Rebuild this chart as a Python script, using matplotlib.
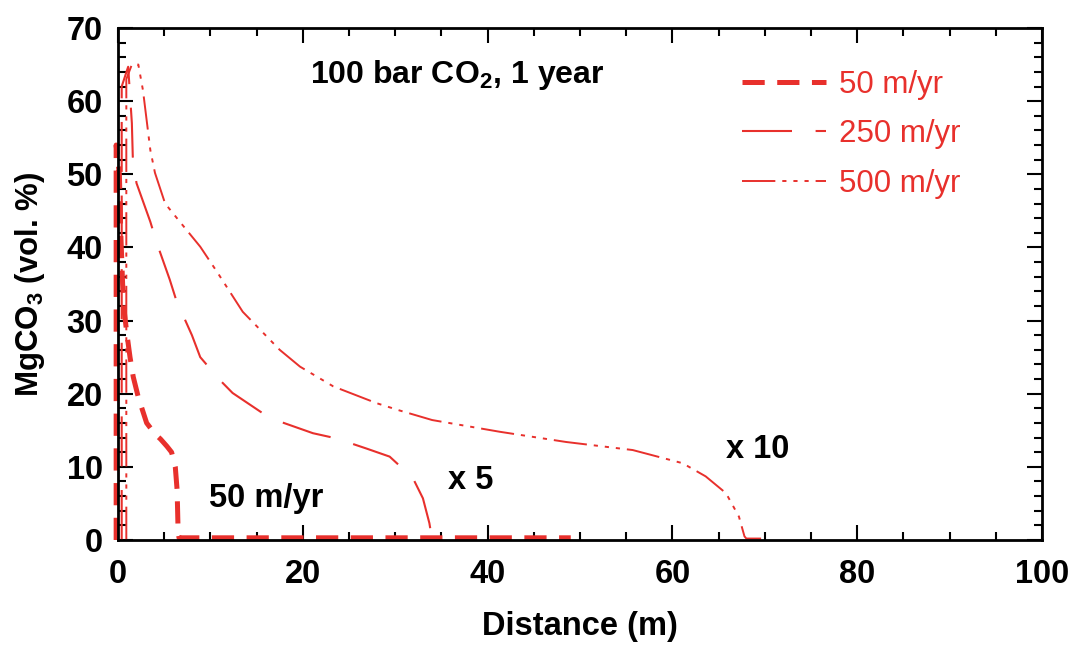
import matplotlib
matplotlib.use("Agg")
import matplotlib.pyplot as plt
from matplotlib.ticker import MultipleLocator

plt.rcParams['font.family'] = ['Liberation Sans', 'DejaVu Sans']
plt.rcParams['mathtext.fontset'] = 'custom'
plt.rcParams['mathtext.rm'] = 'Liberation Sans'
plt.rcParams['mathtext.bf'] = 'Liberation Sans:bold'
plt.rcParams['lines.scale_dashes'] = False

RED = '#E8302C'

# ---- data ----
x_50 = [-0.2, -0.2, 0.15, 0.3, 0.5, 0.7, 0.95, 1.3, 1.65, 2.2, 3.1, 4.0, 4.6, 5.3, 5.8, 6.2, 6.4, 6.5, 6.6, 49]
y_50 = [0, 54, 50, 42, 35, 31, 28.3, 25, 22.3, 19.5, 16, 14.5, 13.8, 12.8, 12, 10, 6.8, 1.4, 0.3, 0.3]

x_250 = [0.4, 0.4, 1.1, 1.5, 1.6, 2.0, 3.5, 4.2, 5.6, 6.3, 8.0, 8.9, 11.0, 12.4, 15.7, 17.5,
         21.1, 23.6, 26.9, 29.4, 31.9, 33.0, 33.7, 34.0, 34.5]
y_250 = [0, 62, 64.7, 57, 52.4, 48.8, 43.5, 40.6, 35.6, 32.8, 28, 25, 21.9, 20.1, 17.3, 16.2,
         14.6, 13.9, 12.5, 11.4, 8.5, 5.7, 2.3, 0, 0]

x_500 = [0.9, 0.9, 1.5, 2.2, 2.7, 3.5, 4.0, 5.1, 6.7, 8.9, 10.8, 13.5, 17.5, 19.7, 23.3, 28.0,
         30.5, 34.0, 41.3, 48.5, 55.7, 61.1, 63.6, 65.8, 67.2, 67.8, 68.0, 69.6]
y_500 = [0, 63, 65, 65, 61.5, 53.3, 50.2, 46, 43.5, 40.1, 36.5, 31.2, 26, 23.7, 21, 18.7,
         17.7, 16.4, 14.8, 13.4, 12.3, 10.5, 8.7, 6.4, 3.2, 0.5, 0.2, 0.2]

legend_labels = ['50 m/yr', '250 m/yr', '500 m/yr']
x_ticks = [0, 20, 40, 60, 80, 100]
y_ticks = [0, 10, 20, 30, 40, 50, 60, 70]

# ---- figure ----
fig = plt.figure(figsize=(10.71, 6.45), dpi=100)
ax = fig.add_axes([118/1071, 105/645, (1042-118)/1071, (540-28)/645])

ax.plot(x_50, y_50, color=RED, lw=3.6, ls=(0, (16, 9)), label=legend_labels[0],
        dash_capstyle='butt', clip_on=False)
ax.plot(x_250, y_250, color=RED, lw=1.5, ls=(0, (36, 17)), label=legend_labels[1])
ax.plot(x_500, y_500, color=RED, lw=1.4, ls=(0, (24, 5, 3, 5, 3, 5, 3, 5)), label=legend_labels[2])

ax.set_xlim(0, 100)
ax.set_ylim(0, 70)
ax.set_xticks(x_ticks)
ax.set_yticks(y_ticks)
ax.xaxis.set_minor_locator(MultipleLocator(5))
ax.yaxis.set_minor_locator(MultipleLocator(2))
ax.tick_params(which='both', direction='in', top=True, right=True, width=1.5, colors='black')
ax.tick_params(which='major', length=11, labelsize=23.5)
ax.tick_params(which='minor', length=6)
ax.tick_params(axis='x', which='major', pad=14)
ax.tick_params(axis='y', which='major', pad=11)
for lab in ax.get_xticklabels() + ax.get_yticklabels():
    lab.set_fontweight('bold')
for s in ax.spines.values():
    s.set_linewidth(2.0)
    s.set_zorder(3)

ax.set_xlabel('Distance (m)', fontsize=23.5, fontweight='bold', labelpad=15)
ax.set_ylabel(r'MgCO$_\mathbf{3}$ (vol. %)', fontsize=22.5, fontweight='bold', labelpad=14)

ax.text(20.8, 63.6, r'100 bar CO$_\mathbf{2}$, 1 year', fontsize=23, fontweight='bold', va='center', ha='left')
ax.text(9.9, 5.7, '50 m/yr', fontsize=23.5, fontweight='bold', va='center', ha='left')
ax.text(35.7, 8.2, 'x 5', fontsize=23.5, fontweight='bold', va='center', ha='left')
ax.text(65.8, 12.4, 'x 10', fontsize=23.5, fontweight='bold', va='center', ha='left')

leg = ax.legend(loc='upper left', bbox_to_anchor=(742/1071, (645-70)/645), bbox_transform=fig.transFigure,
                frameon=False, fontsize=22.5, handlelength=2.7, handletextpad=0.4, labelspacing=0.62,
                borderpad=0, borderaxespad=0)
for t in leg.get_texts():
    t.set_color(RED)

fig.savefig('out.png', dpi=100)
